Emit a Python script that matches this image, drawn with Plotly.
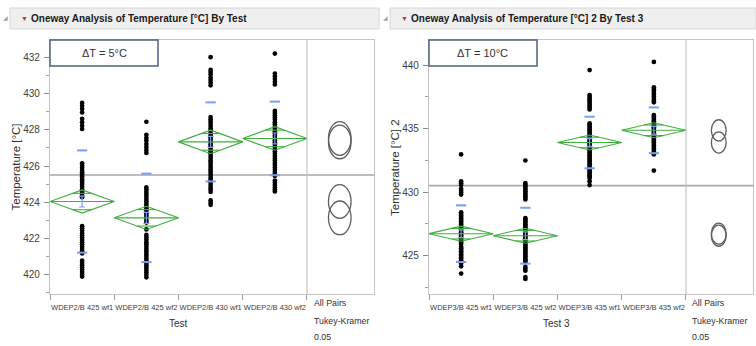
import plotly.graph_objects as go

W, H = 756, 346

# ---------------- data ----------------
cats_left = ["WDEP2/B 425 wf1", "WDEP2/B 425 wf2", "WDEP2/B 430 wf1", "WDEP2/B 430 wf2"]
cats_right = ["WDEP3/B 425 wf1", "WDEP3/B 425 wf2", "WDEP3/B 435 wf1", "WDEP3/B 435 wf2"]

temp_l1 = [429.48, 429.32, 429.15, 428.95, 428.6, 428.42, 428.22, 428.04,
           426.15, 426.02, 425.9, 425.78, 425.66, 425.55, 425.43, 425.3, 425.2, 425.08,
           424.96, 424.85, 424.72, 424.6, 424.5, 424.38, 424.27,
           422.68, 422.56, 422.44, 422.3, 422.18, 422.05, 421.92, 421.8, 421.68, 421.55,
           421.42, 421.3, 421.18,
           420.78, 420.66, 420.52, 420.4, 420.28, 420.15, 420.02, 419.9]
temp_l2 = [428.44,
           427.72, 427.55, 427.4, 427.22, 427.05, 426.88, 426.72,
           424.82, 424.7, 424.57, 424.44, 424.3, 424.18, 424.05, 423.92, 423.8, 423.66,
           423.53, 423.4, 423.27, 423.14, 423.0, 422.88, 422.5,
           422.2, 422.07, 421.94, 421.8, 421.68, 421.55, 421.42, 421.3, 421.16, 421.04,
           420.9, 420.78, 420.65, 420.52, 420.4, 420.27, 420.14, 420.0, 419.86]
temp_l3 = [432.0, 431.3, 431.18, 431.05, 430.88, 430.74, 430.6, 430.45,
           428.7, 428.58, 428.45, 428.33, 428.2, 428.08, 427.95, 427.82, 427.7, 427.57,
           427.45, 427.32, 427.2, 427.07, 426.95, 426.82, 426.7, 426.57, 426.45, 426.32,
           426.2, 426.07, 425.95, 425.82, 425.7, 425.57, 425.45, 425.32, 425.2, 425.07,
           424.95, 424.82, 424.7, 424.57, 424.1, 423.98, 423.86]
temp_l4 = [432.2, 431.1, 430.95, 430.8, 430.65, 430.5,
           429.04, 428.92, 428.8, 428.67, 428.55, 428.42, 428.3, 428.17, 428.05, 427.92,
           427.8, 427.67, 427.55, 427.42, 427.3, 427.17, 427.05, 426.92, 426.8, 426.67,
           426.55, 426.42, 426.3, 426.17, 426.05, 425.92, 425.8, 425.67, 425.55, 425.45,
           425.2, 425.08, 424.95, 424.82, 424.7, 424.6]

temp_r1 = [432.96,
           430.84, 430.7, 430.55, 430.25, 430.1, 429.95, 429.8,
           428.4, 428.28, 428.16, 428.04, 427.92, 427.8, 427.68, 427.56, 427.44, 427.32,
           427.2, 427.08, 426.96, 426.84, 426.72, 426.6, 426.48, 426.36, 426.24, 426.12,
           426.0, 425.9,
           425.7, 425.58, 425.46, 425.34, 425.22, 425.1, 424.98, 424.86, 424.74, 424.62,
           424.5, 424.38, 424.15, 423.58]
temp_r2 = [432.48,
           430.71, 430.58, 430.45, 430.32, 430.19, 430.06, 429.93, 429.8, 429.67, 429.54, 429.41,
           427.94, 427.82, 427.7, 427.58, 427.46, 427.34, 427.22, 427.1, 426.98, 426.86,
           426.74, 426.62, 426.5, 426.38, 426.26, 426.14, 426.02, 425.9, 425.78, 425.66,
           425.54, 425.42, 425.3, 425.18, 425.06, 424.94, 424.82, 424.7, 424.58, 424.48,
           424.1, 423.95, 423.8, 423.3, 423.15]
temp_r3 = [439.6,
           437.64, 437.5, 437.36, 437.22, 437.08, 436.94, 436.8, 436.66, 436.5,
           435.41, 435.29, 435.17, 435.05, 434.93, 434.81, 434.69, 434.57, 434.45, 434.33,
           434.21, 434.09, 433.97, 433.85, 433.73, 433.61, 433.49, 433.37, 433.25, 433.13,
           433.01, 432.89, 432.77, 432.65, 432.53, 432.41, 432.29, 432.17, 432.05, 431.93,
           431.81, 431.69, 431.57, 431.45, 431.33, 431.2, 431.1, 430.85, 430.55]
temp_r4 = [440.24,
           438.25, 438.1, 437.95, 437.8, 437.65, 437.5, 437.35, 437.2, 437.06,
           436.06, 435.94, 435.82, 435.7, 435.58, 435.46, 435.34, 435.22, 435.1, 434.98,
           434.86, 434.74, 434.62, 434.5, 434.38, 434.26, 434.14, 434.02, 433.9, 433.78,
           433.66, 433.54, 433.42, 433.3, 433.18, 433.06, 432.96,
           431.69]

means_left = [424.04, 423.14, 427.33, 427.52]
ci_left = [0.64, 0.64, 0.65, 0.65]
sd_left = [2.82, 2.44, 2.18, 2.03]
se_left = [0.3, 0.3, 0.3, 0.3]
tukey_r_left = 0.93
grand_left = 425.5

means_right = [426.72, 426.56, 433.9, 434.86]
ci_right = [0.59, 0.59, 0.59, 0.59]
sd_right = [2.23, 2.2, 2.03, 1.8]
se_right = [0.3, 0.3, 0.3, 0.3]
tukey_r_right = 0.83
grand_right = 430.5

points_left = [temp_l1, temp_l2, temp_l3, temp_l4]
points_right = [temp_r1, temp_r2, temp_r3, temp_r4]

yrange_left = [418.94, 432.95]
yrange_right = [421.97, 441.97]
xrange_all = [-0.5, 4.543]

# ---------------- styling ----------------
SANS = "Liberation Sans, Arial, sans-serif"
GREEN = "#3fae3f"
BLUE = "#77a0f2"
FRAME = "#c4c4c4"


def px(x):
    return x / W


def py(y):
    return 1 - y / H


fig = go.Figure()
shapes = []
annotations = []


def add_panel(xa, ya, cats, points, means, ci, sd, se, tr, grand, rx_px):
    xr = xa.replace("axis", "")
    yr = ya.replace("axis", "")
    for i, vals in enumerate(points):
        fig.add_trace(go.Scatter(x=[i] * len(vals), y=vals, mode="markers",
                                 marker=dict(color="black", size=4.7),
                                 xaxis=xr, yaxis=yr, hoverinfo="y"))
    dx, dy = [], []
    for i, (m, c) in enumerate(zip(means, ci)):
        dx += [i - 0.5, i, i + 0.5, i, i - 0.5, None, i - 0.5, i + 0.5, None]
        dy += [m, m + c, m, m - c, m, None, m, m, None]
        k = 0.707
        half = 0.5 * (1 - k)
        dx += [i - half, i + half, None, i - half, i + half, None]
        dy += [m + k * c, m + k * c, None, m - k * c, m - k * c, None]
    fig.add_trace(go.Scatter(x=dx, y=dy, mode="lines", line=dict(color=GREEN, width=1.1),
                             xaxis=xr, yaxis=yr, hoverinfo="skip"))
    sx, sy = [], []
    for i, (m, s) in enumerate(zip(means, sd)):
        for v in (m + s, m - s):
            sx += [i - 0.08, i + 0.08, None]
            sy += [v, v, None]
    fig.add_trace(go.Scatter(x=sx, y=sy, mode="lines", line=dict(color=BLUE, width=2),
                             xaxis=xr, yaxis=yr, hoverinfo="skip"))
    fig.add_trace(go.Scatter(x=list(range(len(means))), y=means, mode="markers",
                             marker=dict(size=0.1, color=BLUE),
                             error_y=dict(type="data", array=se, color=BLUE, thickness=1.2, width=3),
                             xaxis=xr, yaxis=yr, hoverinfo="skip"))
    shapes.append(dict(type="line", xref=f"{xr} domain", yref=yr, x0=0, x1=1, y0=grand, y1=grand,
                       line=dict(color="#a9a9a9", width=1.6), layer="below"))
    shapes.append(dict(type="line", xref=xr, yref=f"{yr} domain", x0=3.5, x1=3.5, y0=0, y1=1,
                       line=dict(color=FRAME, width=1.2)))
    rx = rx_px / 64.25
    for m in means:
        shapes.append(dict(type="circle", xref=xr, yref=yr, x0=4.01 - rx, x1=4.01 + rx,
                           y0=m - tr, y1=m + tr, line=dict(color="#5e5e5e", width=1.3)))


add_panel("xaxis", "yaxis", cats_left, points_left, means_left, ci_left, sd_left, se_left,
          tukey_r_left, grand_left, 11.3)
add_panel("xaxis2", "yaxis2", cats_right, points_right, means_right, ci_right, sd_right, se_right,
          tukey_r_right, grand_right, 7.4)

ydom = [py(294), py(40)]
common_x = dict(range=xrange_all, showgrid=False, zeroline=False, showline=True, mirror=True,
                linecolor=FRAME, linewidth=1.2, ticks="", tickmode="array", tickvals=[0, 1, 2, 3],
                tickangle=0, tickfont=dict(family=SANS, size=7.5, color="#404040"), ticklabelstandoff=6,
                minor=dict(tickmode="array", tickvals=[-0.5, 0.5, 1.5, 2.5, 3.5], ticks="outside",
                           ticklen=5, tickcolor="#9a9a9a", showgrid=False))
common_y = dict(showgrid=False, zeroline=False, showline=True, mirror=True, linecolor=FRAME,
                linewidth=1.2, ticks="outside", ticklen=5, tickcolor="#8a8a8a",
                tickfont=dict(family=SANS, size=10, color="#404040"), ticklabelstandoff=2)

fig.update_layout(
    width=W, height=H, margin=dict(l=0, r=0, t=0, b=0, autoexpand=False),
    paper_bgcolor="white", plot_bgcolor="white", showlegend=False,
    xaxis=dict(common_x, domain=[px(50), px(374)], ticktext=cats_left, anchor="y"),
    yaxis=dict(common_y, domain=ydom, range=yrange_left, tick0=420, dtick=2, anchor="x",
               minor=dict(dtick=1, tick0=420, ticks="outside", ticklen=3, tickcolor="#a0a0a0")),
    xaxis2=dict(common_x, domain=[px(429), px(753)], ticktext=cats_right, anchor="y2"),
    yaxis2=dict(common_y, domain=ydom, range=yrange_right, tick0=425, dtick=5, anchor="x2",
                minor=dict(dtick=2.5, tick0=425, ticks="outside", ticklen=3, tickcolor="#a0a0a0")),
)

for x0, x1 in ((10, 379), (390, 756)):
    shapes.append(dict(type="rect", xref="paper", yref="paper", x0=px(x0), x1=px(x1),
                       y0=py(29), y1=py(8), fillcolor="#efefef", line=dict(color="#d6d6d6", width=1),
                       layer="below"))
for x0, x1 in ((50, 158), (429, 537)):
    shapes.append(dict(type="rect", xref="paper", yref="paper", x0=px(x0), x1=px(x1),
                       y0=py(66), y1=py(40), fillcolor="white", line=dict(color="#4f6080", width=1.5)))


def text(x, y, s, size, color="#303030", xanchor="center", angle=0, bold=False):
    annotations.append(dict(xref="paper", yref="paper", x=px(x), y=py(y),
                            text=f"<b>{s}</b>" if bold else s,
                            showarrow=False, xanchor=xanchor, yanchor="middle", textangle=angle,
                            font=dict(family=SANS, size=size, color=color)))


text(5, 18, "◢", 6, color="#a0a0a0")
text(385, 18, "◢", 6, color="#a0a0a0")
text(24.5, 18, "▼", 7, color="#d42a2a")
text(404.5, 18, "▼", 7, color="#d42a2a")
text(29, 18, "Oneway Analysis of Temperature [°C] By Test", 10, color="#1a1a1a", xanchor="left", bold=True)
text(409, 18, "Oneway Analysis of Temperature [°C] 2 By Test 3", 10, color="#1a1a1a", xanchor="left", bold=True)

text(104, 53, "ΔT = 5°C", 11, color="#333333")
text(483, 52.5, "ΔT = 10°C", 11, color="#333333")

text(15.5, 167, "Temperature [°C]", 11.5, color="#303030", angle=-90)
text(395, 167, "Temperature [°C] 2", 11.5, color="#303030", angle=-90)
text(178, 323, "Test", 10)
text(556, 323, "Test 3", 10)

for x in (312, 690):
    text(x, 302.5, "All Pairs", 8.8, xanchor="left")
    text(x, 321, "Tukey-Kramer", 8.8, xanchor="left")
    text(x, 337, "0.05", 8.8, xanchor="left")

fig.update_layout(shapes=shapes, annotations=annotations)
fig.write_html("out.html", config={"displayModeBar": False},
               post_script="document.body.style.margin='0';document.body.style.overflow='hidden';")
